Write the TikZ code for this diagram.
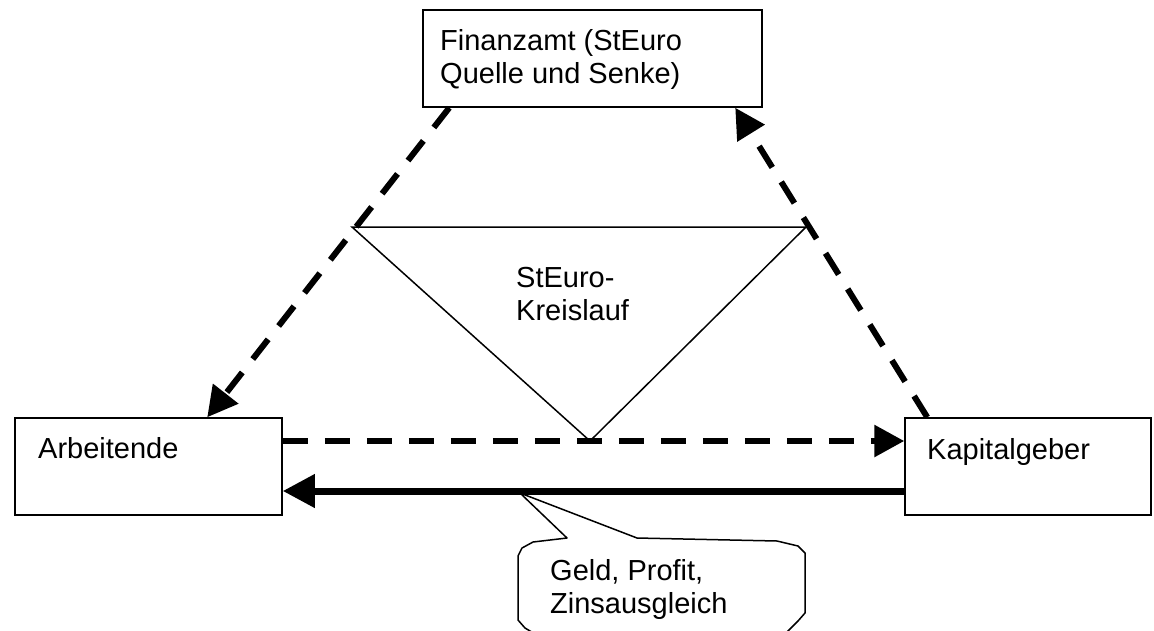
\documentclass[tikz,border=0pt]{standalone}
\usepackage{fontspec}
\setmainfont{Liberation Sans}
\usetikzlibrary{arrows.meta}
\begin{document}
\begin{tikzpicture}[x=1pt,y=-1pt,
  box/.style={draw, line width=1.5pt, fill=white, inner sep=0pt, minimum height=97pt},
  lbl/.style={font=\fontsize{29}{33}\selectfont, align=left, inner sep=0pt, anchor=base west},
  flow/.style={line width=6pt, dash pattern=on 25pt off 17pt,
    -{Triangle[length=30pt,width=31pt]}},
  pay/.style={line width=7pt, -{Triangle[length=32pt,width=32pt]}},
  thinline/.style={line width=1.5pt, line join=miter},
  bubble/.style={draw, line width=1.5pt, fill=white, line join=round}]
\useasboundingbox (0,0) rectangle (1154,630);

% the three parties
\node[box, minimum width=339pt] (fa) at (592.5,58.5) {};
\node[box, minimum width=267pt] (ar) at (148.5,466.5) {};
\node[box, minimum width=246pt] (kg) at (1028,466.5) {};

% multi-line labels are anchored at the baseline of their last line
\node[lbl] (fatext) at (440,83) {Finanzamt (StEuro\\Quelle und Senke)};
\node[lbl] (artext) at (38,458) {Arbeitende};
\node[lbl] (kgtext) at (927,459) {Kapitalgeber};

% tax-euro circulation triangle
\coordinate (tl) at (352,227);
\coordinate (tr) at (806,227);
\coordinate (tb) at (590,441);
\draw[thinline] (tl) -- (tr) -- (tb) -- cycle;
\node[lbl] (cycle) at (516,320) {StEuro-\\Kreislauf};

% callout
\coordinate (tip) at (520,493);
\draw[bubble] (567,538) -- (tip) -- (637,538) -- (777,541) -- (798,546)
  -- (805,553) -- (805,613) -- (798,621) -- (785,634) -- (535,634)
  -- (525,628) -- (518,620) -- (518,556) -- (522,548) -- (533,542) -- cycle;
\node[lbl] (note) at (550,613) {Geld, Profit,\\Zinsausgleich};

% flows between the parties
\draw[flow] ([xshift=27pt]fa.south west) -- ([xshift=193pt]ar.north west);
\draw[flow] ([xshift=23pt]kg.north west) -- ([xshift=313pt]fa.south west);
\draw[flow] ([yshift=25.5pt]ar.east) -- ([yshift=25.5pt]kg.west);
\draw[pay] ([yshift=-24.5pt]kg.west) -- ([yshift=-24.5pt]ar.east);
\end{tikzpicture}
\end{document}
